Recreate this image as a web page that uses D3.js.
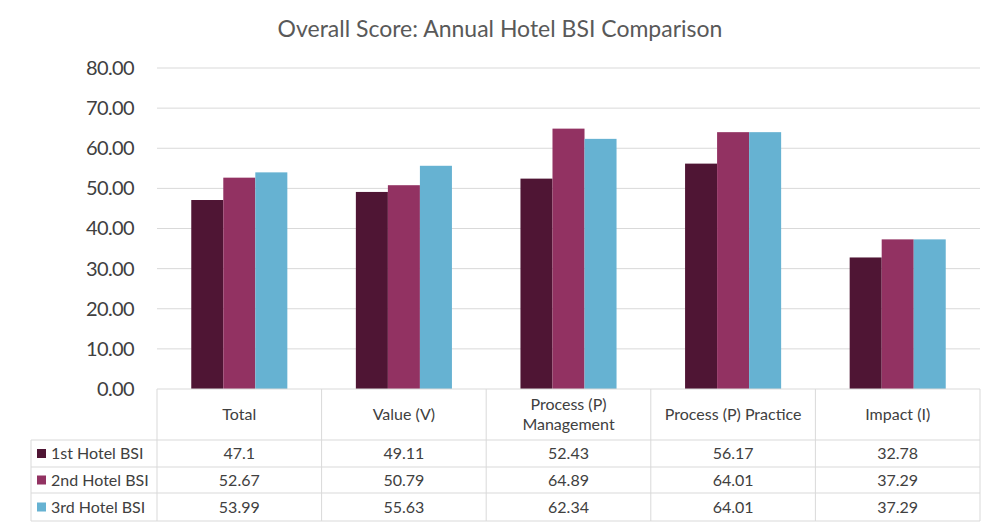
<!DOCTYPE html>
<html><head><meta charset="utf-8">
<script src="https://cdn.jsdelivr.net/npm/d3@7"></script>
<style>body{margin:0;background:#fff}svg{display:block}text{font-family:"Lato","Open Sans",sans-serif;fill:#404040}</style>
</head><body><svg id="c" width="1000" height="530"></svg>
<script>
const title = "Overall Score: Annual Hotel BSI Comparison";
const categories = ["Total","Value (V)","Process (P) Management","Process (P) Practice","Impact (I)"];
const categoryLines = [["Total"],["Value (V)"],["Process (P)","Management"],["Process (P) Practice"],["Impact (I)"]];
const seriesNames = ["1st Hotel BSI","2nd Hotel BSI","3rd Hotel BSI"];
const hotel1 = [47.1,49.11,52.43,56.17,32.78];
const hotel2 = [52.67,50.79,64.89,64.01,37.29];
const hotel3 = [53.99,55.63,62.34,64.01,37.29];
const valueLabels = [["47.1","49.11","52.43","56.17","32.78"],["52.67","50.79","64.89","64.01","37.29"],["53.99","55.63","62.34","64.01","37.29"]];
const yTicks = [0,10,20,30,40,50,60,70,80];
const colors = ["#4f1534","#923262","#66b2d2"];
const series = [hotel1,hotel2,hotel3];

const svg = d3.select("#c");
const mLeft = 157, mRight = 980, mTop = 68, mBottom = 389;
const x = d3.scaleBand().domain(categories).range([mLeft,mRight]);
const x1 = d3.scaleBand().domain(seriesNames).range([0,x.bandwidth()]).paddingInner(0).paddingOuter(1.07);
const y = d3.scaleLinear().domain([0,80]).range([mBottom,mTop]);

svg.append("text").attr("x",500).attr("y",37).attr("text-anchor","middle")
  .style("font-size","23px").style("fill","#595959").text(title);

svg.append("g").selectAll("line").data(yTicks.filter(d=>d>0)).join("line")
  .attr("x1",mLeft).attr("x2",mRight).attr("y1",d=>y(d)).attr("y2",d=>y(d))
  .attr("stroke","#d9d9d9").attr("stroke-width",1);

const yAxis = svg.append("g").attr("transform",`translate(${mLeft-20},0)`)
  .call(d3.axisLeft(y).tickValues(yTicks).tickFormat(d3.format(".2f")).tickSize(0));
yAxis.select(".domain").remove();
yAxis.selectAll("text").style("font-size","20px").style("fill","#404040")
  .style("font-family","Lato").style("letter-spacing","-0.6px");

const g = svg.append("g");
series.forEach((s,si)=>{
  g.selectAll(null).data(s).join("rect")
    .attr("x",(d,i)=>x(categories[i])+x1(seriesNames[si]))
    .attr("width",x1.bandwidth())
    .attr("y",d=>y(d)).attr("height",d=>y(0)-y(d))
    .attr("fill",colors[si]);
});

const rowY = [389,440,467,493,521];
const tableLeft = 31;
const lc = "#d9d9d9";
const t = svg.append("g");
t.append("line").attr("x1",mLeft).attr("x2",mRight).attr("y1",rowY[0]).attr("y2",rowY[0]).attr("stroke",lc);
rowY.slice(1).forEach(yy=>t.append("line").attr("x1",tableLeft).attr("x2",mRight).attr("y1",yy).attr("y2",yy).attr("stroke",lc));
const vx = categories.map(c=>x(c)).concat([mRight]);
vx.forEach(xx=>t.append("line").attr("x1",xx).attr("x2",xx).attr("y1",rowY[0]).attr("y2",rowY[4]).attr("stroke",lc));
t.append("line").attr("x1",tableLeft).attr("x2",tableLeft).attr("y1",rowY[1]).attr("y2",rowY[4]).attr("stroke",lc);

categoryLines.forEach((lines,i)=>{
  const cx = x(categories[i])+x.bandwidth()/2;
  const cy = (rowY[0]+rowY[1])/2;
  const lh = 20;
  lines.forEach((ln,j)=>{
    t.append("text").attr("x",cx).attr("y",cy + (j-(lines.length-1)/2)*lh).attr("dy","0.35em")
      .attr("text-anchor","middle").style("font-size","16px").text(ln);
  });
});
seriesNames.forEach((name,si)=>{
  const cy = (rowY[si+1]+rowY[si+2])/2;
  t.append("rect").attr("x",37).attr("y",cy-4.5).attr("width",9).attr("height",9).attr("fill",colors[si]);
  t.append("text").attr("x",51).attr("y",cy).attr("dy","0.35em").style("font-size","16px").text(name);
  valueLabels[si].forEach((v,i)=>{
    t.append("text").attr("x",x(categories[i])+x.bandwidth()/2).attr("y",cy).attr("dy","0.35em")
      .attr("text-anchor","middle").style("font-size","16px").text(v);
  });
});
</script></body></html>
